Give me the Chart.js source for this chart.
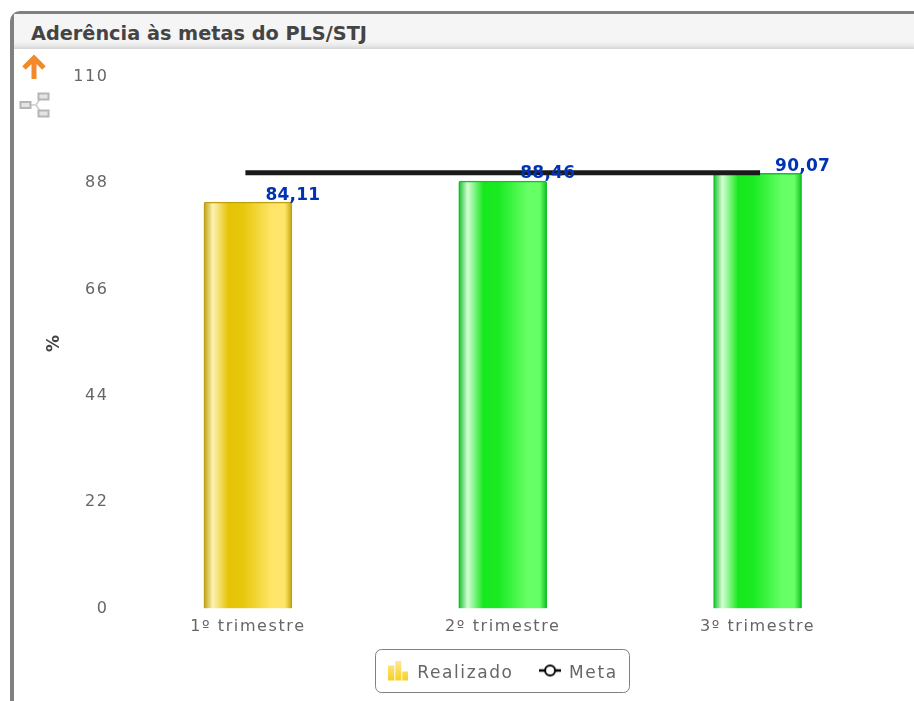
<!DOCTYPE html>
<html><head><meta charset="utf-8">
<script src="https://cdn.jsdelivr.net/npm/chart.js@4"></script>
<style>
html,body{margin:0;padding:0;background:#fff;overflow:hidden}
#wrap{position:relative;width:914px;height:701px;overflow:hidden;background:#fff}
#frame{position:absolute;left:10px;top:11px;width:1000px;height:800px;border:4px solid #808080;border-radius:10px;box-sizing:border-box}
#head{position:absolute;left:14px;top:14px;width:900px;height:35px;background:linear-gradient(#f5f5f5 0,#f5f5f5 78%,#e9e9e9 90%,#d6d6d6 100%);font:bold 19.3px "DejaVu Sans";color:#444;line-height:40px;text-indent:17px}
canvas{position:absolute;left:0;top:0}
svg{position:absolute}
</style></head><body>
<div id="wrap">
<div id="frame"></div>
<div id="head">Aderência às metas do PLS/STJ</div>
<canvas id="c" width="914" height="701"></canvas>
<svg style="left:20px;top:53px" width="28" height="28" viewBox="0 0 28 28"><path d="M14 26V6M4 15L14 5L24 15" fill="none" stroke="#f28a2a" stroke-width="5"/></svg>
<svg style="left:18px;top:90px" width="34" height="30" viewBox="0 0 34 30"><path d="M13 15H18M18 15L24 6M18 15L24 24" stroke="#ccc" stroke-width="1.5" fill="none"/><rect x="2.5" y="12" width="10" height="6" fill="#e4e4e4" stroke="#b5b5b5" stroke-width="2"/><rect x="20.5" y="3.5" width="10" height="6" fill="#e4e4e4" stroke="#b5b5b5" stroke-width="2"/><rect x="20.5" y="20.5" width="10" height="6" fill="#e4e4e4" stroke="#b5b5b5" stroke-width="2"/></svg>
</div>
<script>
const categories = ["1º trimestre", "2º trimestre", "3º trimestre"];
const realizado = [84.11, 88.46, 90.07];
const meta = [90.2, 90.2, 90.2];
const rotulos = ["84,11", "88,46", "90,07"];
const yTicks = [0, 22, 44, 66, 88, 110];

const yellow = ["#bfa010","#fdf3b4","#e6c306","#e8c80c","#ffe66a","#c4a40c"];
const green = ["#14c12a","#d4ffd4","#16e81e","#1aea22","#66ff66","#16bf24"];
const HALF = 44;
function barFill(ctx){
  const c = ctx.chart, xs = c.scales.x;
  const x = xs.getPixelForValue(ctx.dataIndex);
  const g = c.ctx.createLinearGradient(x-HALF,0,x+HALF,0);
  const p = ctx.dataIndex===0 ? yellow : green;
  g.addColorStop(0,p[0]);g.addColorStop(.1,p[1]);g.addColorStop(.28,p[2]);g.addColorStop(.45,p[3]);g.addColorStop(.78,p[4]);g.addColorStop(.92,p[4]);g.addColorStop(1,p[5]);
  return g;
}
function barIcon(){
  const cv=document.createElement('canvas');cv.width=20;cv.height=26;
  const x=cv.getContext('2d');
  const g=x.createLinearGradient(0,0,0,20);g.addColorStop(0,'#fdeb9a');g.addColorStop(1,'#f8d020');
  x.fillStyle=g;x.fillRect(0,5,6,15);x.fillRect(7,0,6,20);x.fillRect(14,11,6,9);
  return cv;
}
function lineIcon(){
  const cv=document.createElement('canvas');cv.width=22;cv.height=20;
  const x=cv.getContext('2d');
  x.strokeStyle='#000';x.lineWidth=2.5;
  x.beginPath();x.moveTo(0,7);x.lineTo(22,7);x.stroke();
  x.fillStyle='#fff';x.lineWidth=2;x.beginPath();x.arc(11,7,5,0,Math.PI*2);x.fill();x.stroke();
  return cv;
}
const spacing = {id:'spacing',beforeLayout(c){c.ctx.letterSpacing='1.6px';},beforeDraw(c){c.ctx.letterSpacing='1.6px';}};
const valueLabels = {
  id:'valueLabels',
  afterDraw(c){
    const m=c.getDatasetMeta(1), x=c.ctx;
    x.save();
    x.letterSpacing='0.25px';
    x.font='bold 17px "DejaVu Sans"';x.fillStyle='#0033b3';x.textAlign='center';x.textBaseline='middle';
    m.data.forEach((b,i)=>x.fillText(rotulos[i],b.x+45,b.y-7));
    x.restore();
  }
};
const legendBox = {
  id:'legendBox',
  beforeDraw(c){
    const x=c.ctx;
    x.save();x.strokeStyle='#808080';x.lineWidth=1;x.beginPath();
    x.roundRect(375.5,649.5,254,43,6);x.stroke();x.restore();
  }
};
const icons = [barIcon(), lineIcon()];
new Chart(document.getElementById('c'),{
  type:'bar',
  data:{labels:categories,datasets:[
    {type:'line',label:'Meta',data:meta,borderColor:'#1a1a1a',borderWidth:5,borderCapStyle:'square',pointRadius:0,fill:false,order:0},
    {type:'bar',label:'Realizado',data:realizado,backgroundColor:barFill,borderColor:ctx=>ctx.dataIndex===0?'#bfa010':'#14c12a',borderWidth:1.5,barThickness:88,borderRadius:{topLeft:2,topRight:2},order:1}
  ]},
  options:{
    responsive:false,animation:false,
    layout:{padding:{left:40.5,top:77,right:29,bottom:9}},
    plugins:{
      tooltip:{enabled:false},
      legend:{
        position:'bottom',fullSize:false,
        labels:{
          color:'#666',font:{family:'"DejaVu Sans"',size:17},usePointStyle:true,pointStyleWidth:21,boxHeight:17,padding:26,
          generateLabels(c){
            return [1,0].map(i=>({text:c.data.datasets[i].label,datasetIndex:i,pointStyle:icons[i?0:1],fontColor:'#666',strokeStyle:'transparent',fillStyle:'transparent',lineWidth:0}));
          }
        }
      }
    },
    scales:{
      x:{grid:{display:false,drawTicks:false},border:{display:false},ticks:{color:'#666',font:{family:'"DejaVu Sans"',size:16},padding:9,maxRotation:0},afterFit(s){s.height=30.5;}},
      y:{min:0,max:110,afterBuildTicks(s){s.ticks=yTicks.map(v=>({value:v}));},afterFit(s){s.width=80;},
        grid:{display:false,drawTicks:false},border:{display:false},
        title:{display:true,text:'%',color:'#444',font:{family:'"DejaVu Sans"',size:17,weight:'bold'},padding:{top:4,bottom:0}},
        ticks:{color:'#666',font:{family:'"DejaVu Sans"',size:16},padding:12}}
    }
  },
  plugins:[spacing,legendBox,valueLabels]
});
</script>
</body></html>
